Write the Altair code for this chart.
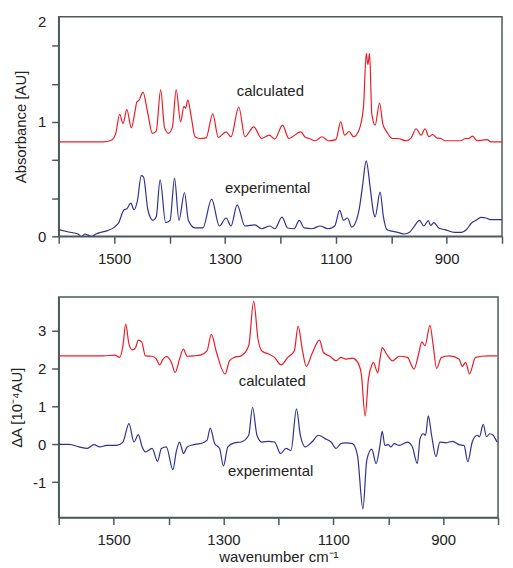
import altair as alt
import pandas as pd

# ---------------- data ----------------
top_calc_wn = [1600, 1520, 1505, 1497, 1490, 1484, 1477, 1469, 1462, 1459, 1455, 1448, 1439, 1431, 1424,
               1416, 1409, 1402, 1395, 1388, 1380, 1374, 1371, 1367, 1361, 1354, 1345, 1334, 1322, 1312,
               1298, 1289, 1275, 1264, 1248, 1234, 1220, 1210, 1196, 1185, 1163, 1155, 1148, 1137, 1125,
               1113, 1100, 1091, 1084, 1076, 1068, 1058, 1050, 1045, 1042, 1039, 1035, 1029, 1021, 1015,
               1008, 998, 988, 973, 964, 955, 946, 939, 932, 925, 918, 910, 903, 875, 866, 860, 853, 845,
               835, 827, 820, 800]
top_calc_val = [0.826, 0.826, 0.84, 0.9, 1.067, 0.986, 1.108, 0.948, 1.1, 1.174, 1.19, 1.26, 1.07, 0.90, 0.92,
                1.28, 0.95, 0.90, 0.95, 1.28, 1.0, 1.136, 1.12, 1.19, 1.05, 0.87, 0.855, 0.86, 1.07, 0.864,
                0.913, 0.87, 1.13, 0.87, 0.957, 0.856, 0.884, 0.85, 0.971, 0.856, 0.913, 0.865, 0.855, 0.835, 0.87,
                0.835, 0.845, 1.0, 0.884, 0.916, 0.87, 0.93, 1.13, 1.6, 1.5, 1.6, 1.07, 0.971, 1.165, 0.98,
                0.913, 0.855, 0.855, 0.835, 0.86, 0.94, 0.884, 0.94, 0.87, 0.89, 0.86, 0.855, 0.835, 0.835, 0.855, 0.855, 0.876, 0.835,
                0.84, 0.845, 0.826, 0.826]

top_exp_wn = [1600, 1582, 1565, 1559, 1553, 1547, 1541, 1533, 1524, 1512, 1500, 1492, 1482, 1477, 1470,
              1464, 1458, 1451, 1447, 1439, 1430, 1424, 1417, 1407, 1399, 1391, 1383, 1373, 1366, 1354,
              1340, 1324, 1310, 1298, 1289, 1278, 1264, 1246, 1234, 1219, 1210, 1197, 1187, 1175, 1166,
              1157, 1143, 1128, 1114, 1102, 1093, 1086, 1079, 1071, 1058, 1052, 1045, 1038, 1032, 1029,
              1020, 1014, 1008, 999, 988, 976, 967, 958, 949, 941, 933, 929, 923, 914, 903, 885, 873,
              864, 855, 847, 838, 829, 821, 800]
top_exp_val = [0.058, 0.038, 0.02, -0.005, 0.02, 0.01, -0.003, 0.02, 0.035, 0.05, 0.078, 0.116, 0.232, 0.24, 0.29,
               0.232, 0.31, 0.53, 0.52, 0.23, 0.14, 0.17, 0.493, 0.12, 0.14, 0.507, 0.14, 0.383, 0.14, 0.073,
               0.073, 0.325, 0.09, 0.16, 0.09, 0.275, 0.09, 0.1, 0.066, 0.09, 0.066, 0.168, 0.073, 0.066, 0.14,
               0.073, 0.066, 0.09, 0.066, 0.09, 0.226, 0.14, 0.16, 0.08, 0.23, 0.43, 0.66, 0.43, 0.21, 0.17,
               0.386, 0.17, 0.06, 0.045, 0.035, 0.02, 0.035, 0.09, 0.14, 0.09, 0.137, 0.095, 0.12, 0.073, 0.058, 0.035, 0.035,
               0.06, 0.116, 0.14, 0.165, 0.16, 0.145, 0.145]

bot_calc_wn = [1600, 1519, 1498, 1489, 1483, 1478, 1472, 1466, 1460, 1455, 1449, 1442, 1430, 1422, 1416,
               1410, 1404, 1395, 1388, 1380, 1373, 1366, 1354, 1342, 1330, 1322, 1313, 1297, 1289, 1280,
               1268, 1254, 1245, 1237, 1230, 1218, 1207, 1195, 1183, 1171, 1164, 1156, 1149, 1139, 1125,
               1118, 1106, 1095, 1086, 1077, 1065, 1056, 1049, 1042, 1036, 1030, 1027, 1019, 1015, 1011,
               1003, 992, 980, 965, 953, 944, 939, 933, 924, 918, 912, 903, 889, 871, 865, 859, 852, 841,
               818, 802]
bot_calc_val = [2.34, 2.34, 2.36, 2.30, 2.61, 3.18, 2.65, 2.50, 2.56, 2.755, 2.71, 2.34, 2.33, 2.255, 2.10,
                2.255, 2.32, 2.18, 1.90, 2.255, 2.52, 2.33, 2.34, 2.36, 2.47, 2.91, 2.45, 1.86, 2.21, 2.30,
                2.34, 2.61, 3.79, 2.78, 2.47, 2.39, 2.30, 2.10, 2.30, 2.47, 3.13, 2.47, 2.06, 2.39, 2.755,
                2.43, 2.33, 2.21, 2.30, 2.255, 2.28, 2.18, 1.86, 0.75, 1.73, 2.10, 2.17, 1.89, 2.255, 2.56,
                2.39, 2.21, 2.33, 2.30, 1.99, 2.43, 2.71, 2.61, 3.15, 2.61, 2.01, 2.30, 2.34, 2.255, 2.06, 2.17, 1.86, 2.30,
                2.34, 2.34]

bot_exp_wn = [1600, 1581, 1563, 1548, 1536, 1525, 1513, 1495, 1483, 1472, 1463, 1455, 1448, 1442, 1430,
              1420, 1413, 1404, 1392, 1386, 1380, 1376, 1373, 1366, 1354, 1342, 1330, 1324, 1316, 1307,
              1300, 1292, 1280, 1268, 1254, 1247, 1239, 1230, 1218, 1207, 1196, 1186, 1177, 1167, 1160,
              1151, 1139, 1127, 1115, 1104, 1095, 1086, 1077, 1065, 1056, 1046, 1039, 1030, 1022, 1015,
              1011, 1006, 1000, 995, 989, 980, 965, 956, 947, 942, 936, 932, 927, 921, 913, 906, 894,
              883, 871, 862, 855, 847, 838, 834, 827, 821, 815, 809, 802]
bot_exp_val = [0.0, 0.0, -0.07, -0.11, -0.01, -0.07, -0.03, -0.03, 0.06, 0.545, 0.06, 0.255, -0.07, -0.2, -0.11,
               -0.45, -0.11, -0.07, -0.67, -0.2, 0.06, -0.11, -0.245, -0.07, -0.01, 0.02, 0.105, 0.43, 0.02, -0.11,
               -0.57, -0.07, 0.04, 0.06, 0.24, 0.98, 0.24, 0.06, 0.08, 0.06, -0.245, -0.11, -0.16, 0.94, 0.24,
               -0.07, 0.06, 0.24, 0.15, 0.06, -0.11, 0.02, 0.04, 0.02, -0.29, -1.71, -0.42, -0.13, -0.51, -0.03,
               0.34, -0.03, -0.01, -0.07, 0.02, -0.03, 0.06, -0.07, -0.51, 0.15, 0.28, 0.24, 0.75, 0.24, -0.33, 0.06, 0.04,
               0.08, -0.01, -0.03, -0.46, 0.06, 0.24, 0.2, 0.53, 0.2, 0.28, 0.24, 0.06]

label_names = ["calculated", "experimental"]
top_label_wn = [1218, 1223]
top_label_val = [1.27, 0.42]
bot_label_wn = [1211, 1214]
bot_label_val = [1.68, -0.72]

top_y_ticks = [0, 1/3, 2/3, 1, 4/3, 5/3]
top_y_top_label = 1.875
bot_y_ticks = [-1, 0, 1, 2, 3]
x_ticks = [800, 900, 1000, 1100, 1200, 1300, 1400, 1500, 1600]

# ---------------- styling ----------------
RED = "#ec1c24"
BLUE = "#2e3192"
AXC = "#4b5a5a"
FONT = "Liberation Sans"

top_df = pd.concat([
    pd.DataFrame({"wn": top_calc_wn, "v": top_calc_val, "s": "calculated"}),
    pd.DataFrame({"wn": top_exp_wn, "v": top_exp_val, "s": "experimental"}),
])
bot_df = pd.concat([
    pd.DataFrame({"wn": bot_calc_wn, "v": bot_calc_val, "s": "calculated"}),
    pd.DataFrame({"wn": bot_exp_wn, "v": bot_exp_val, "s": "experimental"}),
])
top_lab = pd.DataFrame({"wn": top_label_wn, "v": top_label_val, "t": label_names})
bot_lab = pd.DataFrame({"wn": bot_label_wn, "v": bot_label_val, "t": label_names})

color = alt.Color("s:N", scale=alt.Scale(domain=["calculated", "experimental"], range=[RED, BLUE]), legend=None)
x_scale = alt.Scale(domain=[800, 1600], reverse=True, nice=False, zero=False)

odd_hundreds = "(datum.value / 100) % 2 == 1 ? datum.label : ''"

# top panel
top_x = alt.X("wn:Q", scale=x_scale,
              axis=alt.Axis(title=None, values=x_ticks, format="d",
                            labelExpr=odd_hundreds, grid=False, labelOverlap=False))
top_y = alt.Y("v:Q", scale=alt.Scale(domain=[0, 1.92], nice=False, zero=False),
              axis=alt.Axis(title="Absorbance [AU]", grid=False, labelOverlap=False,
                            values=top_y_ticks + [top_y_top_label],
                            labelExpr="datum.value < 0.01 ? '0' : (abs(datum.value - 1) < 0.01 ? '1' : (datum.value > 1.8 ? '2' : ''))",
                            tickColor={"condition": {"test": "datum.value > 1.8", "value": "transparent"}, "value": AXC},
                            titlePadding=9))

top_lines = alt.Chart(top_df).mark_line(strokeWidth=1.2, interpolate="monotone", clip=True).encode(
    color=color, detail="s:N", order=alt.Order("wn:Q", sort="descending"))
top_text = alt.Chart(top_lab).mark_text(fontSize=15, font=FONT, color="#222222").encode(text="t:N")
top = alt.layer(top_lines, top_text).encode(x=top_x, y=top_y).properties(width=446, height=221)

# bottom panel
bot_x = alt.X("wn:Q", scale=x_scale,
              axis=alt.Axis(title="wavenumber cm⁻¹", values=x_ticks, format="d",
                            labelExpr=odd_hundreds, grid=False, titlePadding=2, labelOverlap=False))
bot_y = alt.Y("v:Q", scale=alt.Scale(domain=[-1.94, 3.9], nice=False, zero=False),
              axis=alt.Axis(title="ΔA [10⁻⁴AU]", grid=False, values=bot_y_ticks, labelOverlap=False,
                            labelExpr="'' + datum.value", titlePadding=8))
bot_lines = alt.Chart(bot_df).mark_line(strokeWidth=1.2, interpolate="monotone", clip=True).encode(
    color=color, detail="s:N", order=alt.Order("wn:Q", sort="descending"))
bot_text = alt.Chart(bot_lab).mark_text(fontSize=15, font=FONT, color="#222222").encode(text="t:N")
bot = alt.layer(bot_lines, bot_text).encode(x=bot_x, y=bot_y).properties(width=442, height=222)

chart = alt.vconcat(top, bot, spacing=29).properties(
    padding={"left": 0, "top": 4, "right": 1, "bottom": 0}
).configure_view(
    stroke=AXC, strokeWidth=1.5
).configure_axis(
    domainColor=AXC, domainWidth=1.5, tickColor=AXC, tickWidth=1.5, tickSize=7,
    labelFont=FONT, labelFontSize=15, labelColor="#222222", labelPadding=6,
    titleFont=FONT, titleFontSize=15, titleFontWeight="normal", titleColor="#222222"
).configure_axisX(labelPadding=8)

chart.save("out.html", embed_options={"renderer": "svg", "actions": False})
